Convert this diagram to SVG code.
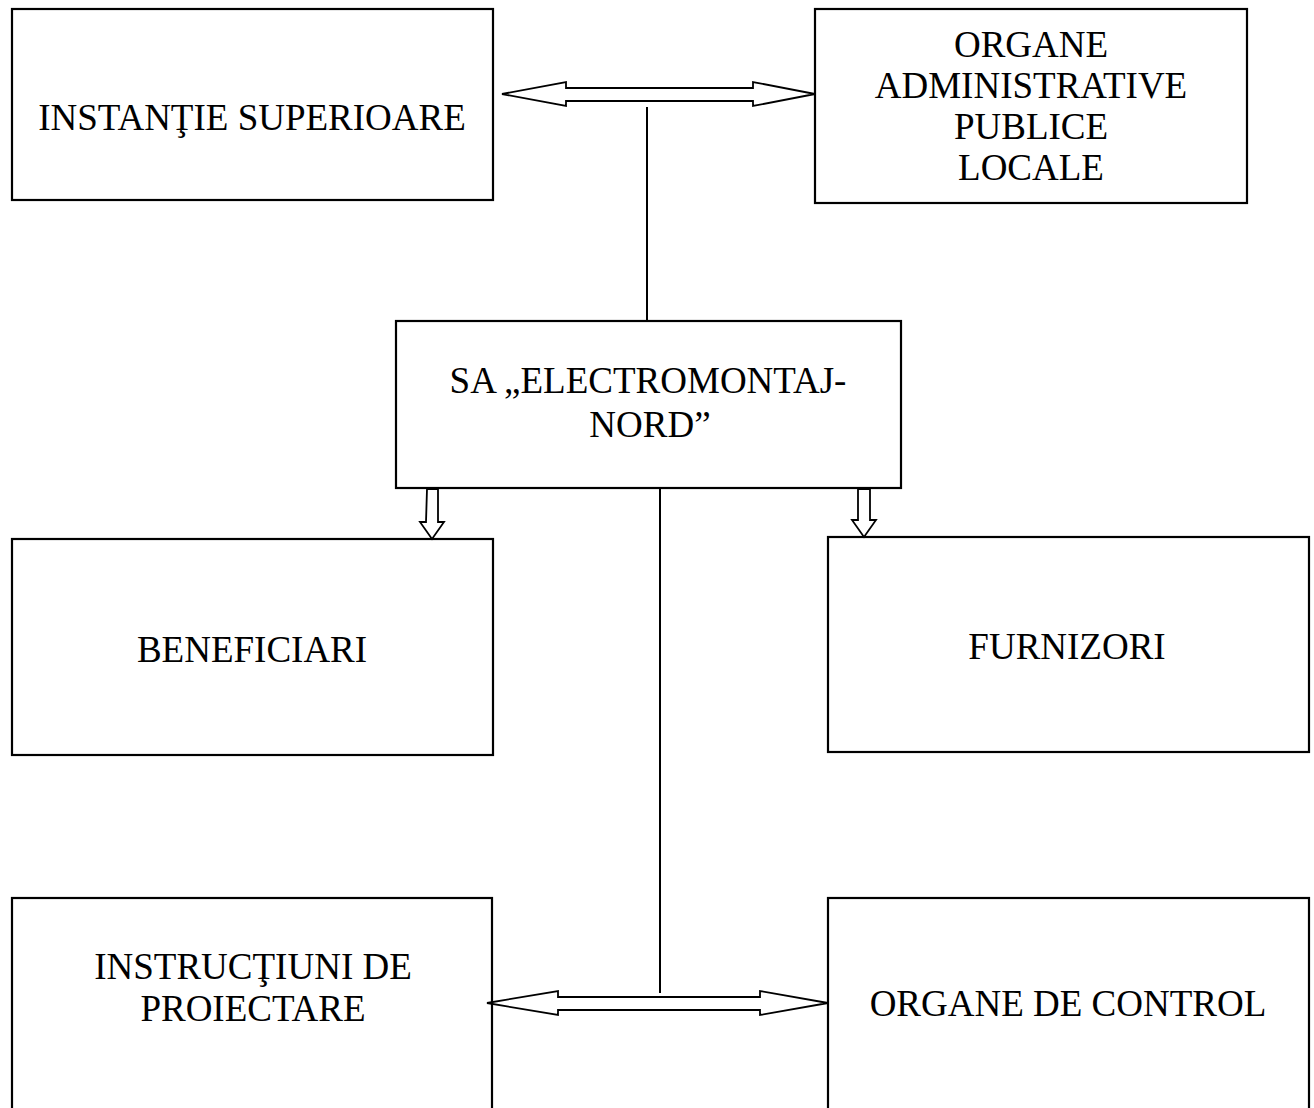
<svg xmlns="http://www.w3.org/2000/svg" width="1314" height="1108" viewBox="0 0 1314 1108">
<style>
.box{fill:#fff;stroke:#000;stroke-width:2.2}
.t{font-family:"Liberation Serif","Times New Roman",serif;font-size:37px;fill:#000;text-anchor:middle}
.ln{stroke:#000;stroke-width:2;fill:none}
.ar{fill:#fff;stroke:#000;stroke-width:1.8;stroke-linejoin:miter}
</style>
<rect width="1314" height="1108" fill="#fff"/>
<g id="instantie"><rect class="box" x="12" y="9" width="481" height="191"/><text class="t" x="252" y="130">INSTANŢIE SUPERIOARE</text></g>
<g id="organe-admin"><rect class="box" x="815" y="9" width="432" height="194"/>
<text class="t" x="1031" y="57">ORGANE</text><text class="t" x="1031" y="98">ADMINISTRATIVE</text><text class="t" x="1031" y="139">PUBLICE</text><text class="t" x="1031" y="180">LOCALE</text></g>
<g id="sa"><rect class="box" x="396" y="321" width="505" height="167"/>
<text class="t" x="648" y="393">SA „ELECTROMONTAJ-</text><text class="t" x="650" y="437">NORD”</text></g>
<g id="beneficiari"><rect class="box" x="12" y="539" width="481" height="216"/><text class="t" x="252" y="662">BENEFICIARI</text></g>
<g id="furnizori"><rect class="box" x="828" y="537" width="481" height="215"/><text class="t" x="1067" y="659">FURNIZORI</text></g>
<g id="instructiuni"><rect class="box" x="12" y="898" width="480" height="220"/>
<text class="t" x="253" y="979">INSTRUCŢIUNI DE</text><text class="t" x="253" y="1021">PROIECTARE</text></g>
<g id="control"><rect class="box" x="828" y="898" width="481" height="220"/><text class="t" x="1068" y="1016">ORGANE DE CONTROL</text></g>
<g id="connectors">
<line class="ln" x1="647" y1="107" x2="647" y2="321"/>
<line class="ln" x1="660" y1="488" x2="660" y2="993"/>
<polygon class="ar" points="502,94 566,82 566,88 753,88 753,82 815,94 753,106 753,101 566,101 566,106"/>
<polygon class="ar" points="487,1003 558,991 558,997 760,997 760,991 828,1003 760,1015 760,1010 558,1010 558,1015"/>
<polygon class="ar" points="427,489 438,489 438,522 444,522 432,539 420,522 426,522"/>
<polygon class="ar" points="858,489 870,489 870,520 876,520 864,537 852,520 858,520"/>
</g>
</svg>
